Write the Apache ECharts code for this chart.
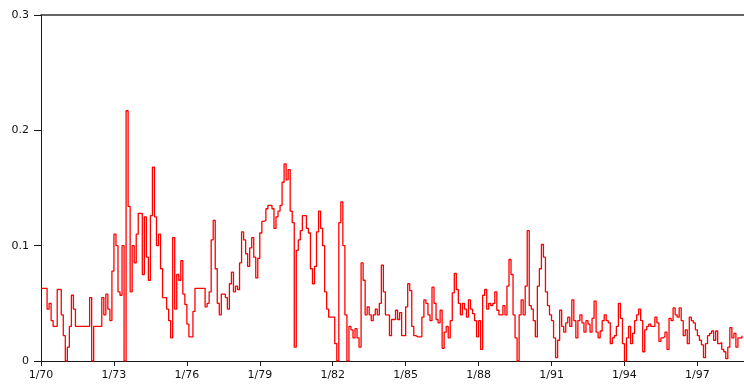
<!DOCTYPE html>
<html>
<head>
<meta charset="utf-8">
<script src="https://cdn.jsdelivr.net/npm/echarts@6/dist/echarts.min.js"></script>
<style>
  html, body { margin: 0; padding: 0; background: #fff; }
  #chart { width: 744px; height: 385px; }
</style>
</head>
<body>
<div id="chart"></div>
<script>
// Monthly series, first value = January 1970
const startYear = 70;

const values1970s = [
  0.063, 0.063, 0.063, 0.045, 0.05, 0.035, 0.03, 0.03, 0.062, 0.062, 0.04, 0.022,
  0, 0.012, 0.03, 0.057, 0.045, 0.03, 0.03, 0.03, 0.03, 0.03, 0.03, 0.03,
  0.055, 0, 0.03, 0.03, 0.03, 0.03, 0.055, 0.04, 0.058, 0.045, 0.035, 0.078,
  0.11, 0.10, 0.06, 0.057, 0.1, 0, 0.217, 0.134, 0.06, 0.1, 0.085, 0.11,
  0.128, 0.128, 0.075, 0.125, 0.09, 0.07, 0.126, 0.168, 0.125, 0.1, 0.11, 0.08,
  0.055, 0.055, 0.045, 0.035, 0.02, 0.107, 0.045, 0.075, 0.07, 0.087, 0.058, 0.049,
  0.032, 0.021, 0.021, 0.043, 0.063, 0.063, 0.063, 0.063, 0.063, 0.047, 0.05, 0.06,
  0.105, 0.122, 0.08, 0.05, 0.04, 0.058, 0.058, 0.055, 0.045, 0.067, 0.077, 0.06,
  0.065, 0.062, 0.085, 0.112, 0.105, 0.093, 0.082, 0.098, 0.107, 0.09, 0.072, 0.089,
  0.111, 0.121, 0.122, 0.132, 0.135, 0.135, 0.132, 0.115, 0.125, 0.13, 0.135, 0.155
];

const values1980s = [
  0.171, 0.157, 0.166, 0.13, 0.12, 0.012, 0.096, 0.105, 0.113, 0.126, 0.126, 0.115,
  0.111, 0.08, 0.067, 0.082, 0.112, 0.13, 0.115, 0.1, 0.06, 0.045, 0.038, 0.038,
  0.038, 0.015, 0, 0.12, 0.138, 0.1, 0.04, 0, 0.03, 0.027, 0.02, 0.028,
  0.02, 0.012, 0.085, 0.07, 0.04, 0.047, 0.04, 0.035, 0.04, 0.045, 0.04, 0.05,
  0.083, 0.06, 0.04, 0.04, 0.022, 0.036, 0.036, 0.044, 0.036, 0.042, 0.022, 0.022,
  0.047, 0.067, 0.061, 0.03, 0.022, 0.021, 0.021, 0.021, 0.038, 0.053, 0.05, 0.04,
  0.035, 0.064, 0.05, 0.036, 0.033, 0.044, 0.011, 0.025, 0.03, 0.02, 0.035, 0.059,
  0.076, 0.062, 0.05, 0.04, 0.05, 0.045, 0.038, 0.053, 0.045, 0.041, 0.035, 0.021,
  0.035, 0.01, 0.057, 0.062, 0.045, 0.05, 0.048, 0.05, 0.06, 0.044, 0.04, 0.04,
  0.048, 0.04, 0.065, 0.088, 0.075, 0.04, 0.02, 0, 0.04, 0.053, 0.04, 0.065
];

const values1990s = [
  0.113, 0.048, 0.045, 0.035, 0.021, 0.065, 0.08, 0.101, 0.09, 0.06, 0.048, 0.04,
  0.035, 0.02, 0.003, 0.018, 0.044, 0.03, 0.025, 0.033, 0.038, 0.03, 0.053, 0.035,
  0.02, 0.035, 0.04, 0.033, 0.025, 0.035, 0.032, 0.025, 0.037, 0.052, 0.025, 0.02,
  0.026, 0.035, 0.04, 0.035, 0.033, 0.015, 0.02, 0.022, 0.03, 0.05, 0.037, 0.015,
  0, 0.02, 0.03, 0.015, 0.024, 0.035, 0.04, 0.045, 0.035, 0.008, 0.027, 0.03,
  0.032, 0.03, 0.03, 0.038, 0.033, 0.017, 0.02, 0.021, 0.025, 0.01, 0.037, 0.035,
  0.046, 0.04, 0.038, 0.046, 0.035, 0.022, 0.027, 0.015, 0.038, 0.035, 0.033, 0.027,
  0.022, 0.018, 0.014, 0.003, 0.015, 0.022, 0.024, 0.026, 0.018, 0.026, 0.015, 0.016,
  0.01, 0.008, 0.002, 0.012, 0.029, 0.02, 0.024, 0.012, 0.02, 0.02, 0.022
];

// Tick years (January of each) and the value-axis ticks
const tickYears = [70, 73, 76, 79, 82, 85, 88, 91, 94, 97];
const yTicks = [0, 0.1, 0.2, 0.3];

const series = values1970s.concat(values1980s, values1990s);
const points = series.map((v, i) => [i, v]);
const tickMonths = tickYears.map(y => (y - startYear) * 12);

const axisColor = '#1a1a1a';
const labelFont = { color: '#111', fontSize: 11, fontFamily: 'DejaVu Sans' };

const chart = echarts.init(document.getElementById('chart'), null, { renderer: 'canvas' });
chart.setOption({
  animation: false,
  backgroundColor: '#fff',
  grid: { left: 41, right: 0, top: 15, bottom: 24, containLabel: false },
  xAxis: [
    {
      type: 'value',
      min: 0,
      max: series.length,
      position: 'bottom',
      axisLine: { show: true, onZero: false, lineStyle: { color: axisColor, width: 1 } },
      axisTick: { show: true, length: 5, customValues: tickMonths, lineStyle: { color: axisColor } },
      axisLabel: {
        show: true,
        customValues: tickMonths,
        margin: 9,
        formatter: v => '1/' + (startYear + Math.round(v / 12)),
        ...labelFont
      },
      splitLine: { show: false }
    },
    {
      type: 'value',
      min: 0,
      max: series.length,
      position: 'top',
      axisLine: { show: true, onZero: false, lineStyle: { color: '#333', width: 1.5 } },
      axisTick: { show: false },
      axisLabel: { show: false },
      splitLine: { show: false }
    }
  ],
  yAxis: {
    type: 'value',
    min: 0,
    max: 0.3,
    interval: 0.1,
    axisLine: { show: true, onZero: false, lineStyle: { color: axisColor, width: 1 } },
    axisTick: { show: true, length: 7, lineStyle: { color: axisColor } },
    axisLabel: {
      margin: 12,
      formatter: v => {
        const t = yTicks.find(k => Math.abs(k - v) < 1e-9);
        return t === undefined ? '' : (t === 0 ? '0' : t.toFixed(1));
      },
      ...labelFont
    },
    splitLine: { show: false }
  },
  series: [{
    type: 'line',
    xAxisIndex: 0,
    step: 'end',
    data: points,
    showSymbol: false,
    symbol: 'none',
    lineStyle: { color: '#ff0000', width: 1.3 },
    clip: true
  }]
});
</script>
</body>
</html>
